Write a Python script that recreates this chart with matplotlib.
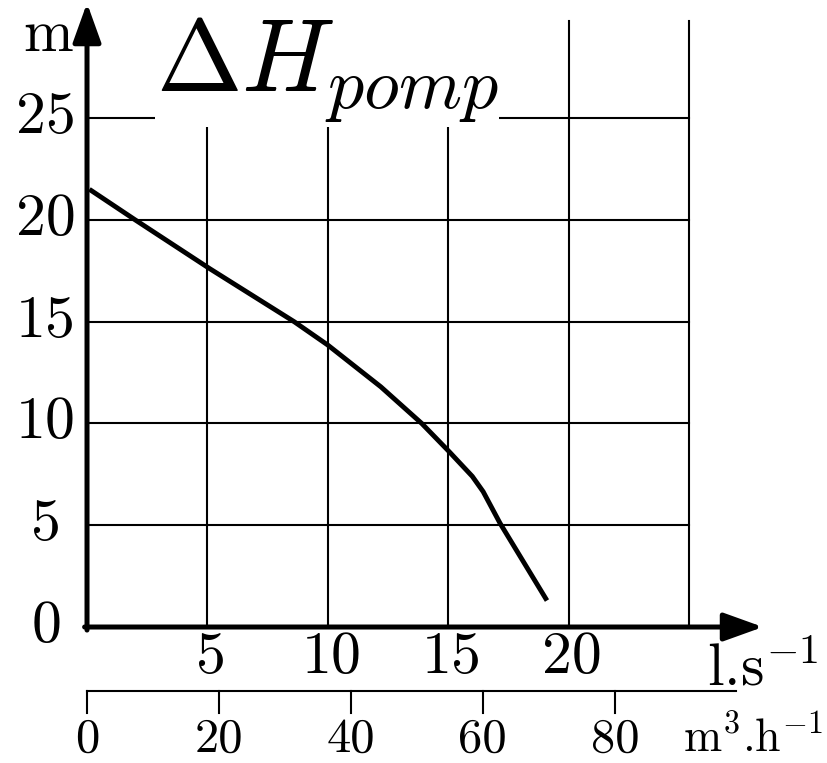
import numpy as np
import matplotlib.pyplot as plt

plt.rcParams['mathtext.fontset'] = 'cm'
plt.rcParams['font.family'] = 'serif'
plt.rcParams['font.serif'] = ['cmr10', 'DejaVu Serif']

# Data: pump head curve
flow_ls = [0.1, 2.0, 5.1, 8.6, 10.0, 12.2, 13.9, 15.05, 16.0, 16.45, 17.15, 19.1]
head_m = [21.5, 20.0, 17.6, 15.0, 13.85, 11.8, 10.0, 8.6, 7.4, 6.65, 5.1, 1.3]

x_ticks = [5, 10, 15, 20]
x_grid = [5, 10, 15, 20, 25]
y_ticks = [0, 5, 10, 15, 20, 25]
y_grid = [5, 10, 15, 20, 25]
m3h_ticks = [0, 20, 40, 60, 80]
m3h_per_ls = 3.65  # scale of the lower axis as drawn

fig = plt.figure(figsize=(8.28, 7.63), dpi=100)
ax = fig.add_axes([0, 0, 1, 1])
ax.set_xlim(-3.613, 30.77)
ax.set_ylim(-6.68, 30.80)
ax.axis('off')

# Grid
for gx in x_grid:
    ax.plot([gx, gx], [0, 29.75], color='black', lw=1.5, zorder=1)
for gy in y_grid:
    ax.plot([0, 25], [gy, gy], color='black', lw=1.5, zorder=1)

# Title with white box hiding the grid behind it
ax.text(2.85, 26.28, r'$\Delta H_{pomp}$', fontsize=74, va='baseline', ha='left',
        bbox=dict(facecolor='white', edgecolor='none', pad=1), zorder=2)

# Curve
ax.plot(flow_ls, head_m, color='black', lw=3.5, solid_capstyle='butt', zorder=3)

# Axes with arrows
arrow = dict(arrowstyle='-|>,head_length=0.5,head_width=0.18', lw=3.6,
             color='black', mutation_scale=48, shrinkA=0, shrinkB=0)
ax.annotate('', xy=(0, 30.65), xytext=(0, -0.15), arrowprops=arrow, zorder=4)
ax.annotate('', xy=(28.07, 0), xytext=(-0.1, 0), arrowprops=arrow, zorder=4)

# Tick labels
for ty in y_ticks:
    ax.text(-1.7, ty, str(ty), fontsize=43, ha='center', va='center')
for tx in x_ticks:
    ax.text(tx + 0.15, -1.52, str(tx), fontsize=43, ha='center', va='center')
ax.text(-2.64, 28.3, 'm', fontsize=43, ha='left', va='baseline')
ax.text(25.75, -2.85, r'l.s$^{-1}$', fontsize=43, ha='left', va='baseline')

# Lower axis in m3/h
y2 = -3.14
ax.plot([0, 26.95], [y2, y2], color='black', lw=1.5)
for q in m3h_ticks:
    xq = q / m3h_per_ls
    ax.plot([xq, xq], [y2, -4.22], color='black', lw=1.5)
    ax.text(xq, -5.55, str(q), fontsize=35, ha='center', va='center')
ax.text(24.75, -6.14, r'm$^{3}$.h$^{-1}$', fontsize=33, ha='left', va='baseline')

fig.savefig('out.png', dpi=100)
